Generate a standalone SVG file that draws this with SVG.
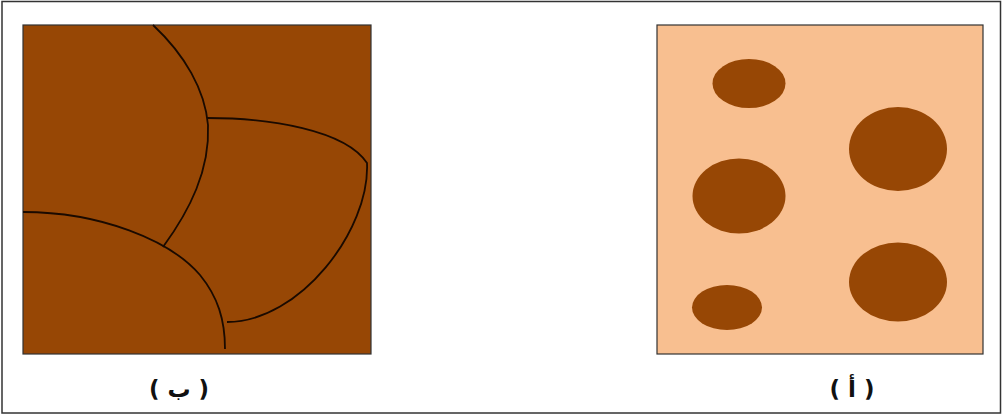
<svg xmlns="http://www.w3.org/2000/svg" width="1003" height="416" viewBox="0 0 1003 416">
<style>
.dark{fill:#974705}
.box{stroke:#333;stroke-width:1.2}
.crack{fill:none;stroke:#1a0a00;stroke-width:1.8}
.lbl{font-family:"DejaVu Sans","Liberation Sans",sans-serif;font-weight:bold;font-size:23px;fill:#111;text-anchor:middle}
</style>
<rect x="0" y="0" width="1003" height="416" fill="#fff"/>
<rect x="2" y="1.5" width="998.5" height="411.5" fill="none" stroke="#333" stroke-width="1.5"/>
<g id="panel-b">
<rect class="dark box" x="23" y="25" width="348" height="329"/>
<path class="crack" d="M153,25 C185,55 205,90 208,125 C210,170 190,210 163,247"/>
<path class="crack" d="M207,118 C270,118 345,130 367,163 C370,230 300,322 227,322"/>
<path class="crack" d="M23,212 C100,212 170,240 200,275 C218,297 225,320 225,349"/>
<text class="lbl" x="179" y="397">( ب )</text>
</g>
<g id="panel-a">
<rect class="box" x="657" y="25" width="326" height="329" fill="#F8BF90"/>
<ellipse class="dark" cx="749" cy="83.5" rx="36.5" ry="24.5"/>
<ellipse class="dark" cx="898" cy="149" rx="49" ry="42"/>
<ellipse class="dark" cx="739" cy="196" rx="46.5" ry="37.5"/>
<ellipse class="dark" cx="898" cy="282" rx="49" ry="39.5"/>
<ellipse class="dark" cx="727" cy="307.5" rx="35" ry="22.5"/>
<text class="lbl" x="852" y="397">( أ )</text>
</g>
</svg>
